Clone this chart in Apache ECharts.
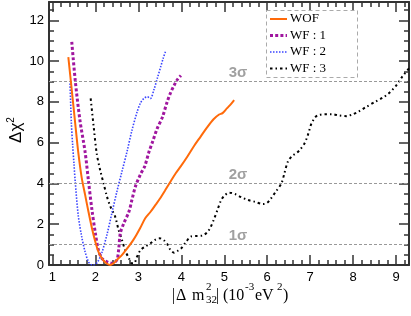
<!DOCTYPE html>
<html>
<head>
<meta charset="utf-8">
<script src="https://cdn.jsdelivr.net/npm/echarts@6/dist/echarts.min.js"></script>
<style>html,body{margin:0;padding:0;background:#fff}#c{width:411px;height:316px}</style>
</head>
<body>
<div id="c"></div>
<script>
var seriesNames = ['WOF', 'WF : 1', 'WF : 2', 'WF : 3'];

var wofX = [1.37,1.45,1.53,1.60,1.68,1.76,1.84,1.92,1.99,2.07,2.13,2.19,2.27,2.35,2.43,2.50,2.60,2.69,2.79,2.88,2.96,3.04,3.16,3.28,3.40,3.50,3.62,3.75,3.87,3.99,4.15,4.30,4.45,4.60,4.75,4.88,4.96,5.06,5.15,5.23];
var wofY = [10.2,8.58,6.95,5.55,4.3,3.45,2.6,1.8,1.2,0.65,0.4,0.22,0.06,0,0.1,0.25,0.45,0.68,0.95,1.22,1.5,1.8,2.29,2.6,2.95,3.25,3.65,4.1,4.5,4.85,5.35,5.85,6.3,6.75,7.15,7.38,7.45,7.68,7.88,8.09];

var wf1X = [1.45,1.53,1.64,1.76,1.84,1.92,2.00,2.07,2.15,2.27,2.39,2.50,2.54,2.58,2.66,2.78,2.85,2.93,3.05,3.15,3.24,3.34,3.44,3.56,3.67,3.75,3.83,3.91,3.99];
var wf1Y = [10.95,9.07,7.1,5.55,4.1,2.7,1.55,0.73,0.33,0.16,0.08,0.25,0.73,1.56,2.04,2.61,3.19,3.84,4.45,4.85,5.5,6.1,6.7,7.25,8.0,8.45,8.8,9.1,9.3];

var wf2X = [1.41,1.44,1.47,1.50,1.53,1.60,1.68,1.76,1.84,1.90,1.96,2.05,2.15,2.27,2.39,2.50,2.62,2.74,2.85,2.97,3.05,3.13,3.21,3.28,3.36,3.44,3.52,3.58,3.63];
var wf2Y = [8.9,7.0,5.9,5.0,4.1,2.45,1.4,0.65,0.15,0.02,0,0.15,0.6,1.5,2.6,3.6,4.6,5.6,6.6,7.5,7.95,8.17,8.25,8.17,8.58,9.15,9.72,10.15,10.46];

var wf3X = [1.89,1.96,2.03,2.11,2.19,2.27,2.35,2.46,2.54,2.62,2.69,2.78,2.85,2.91,2.97,3.05,3.17,3.28,3.40,3.50,3.60,3.68,3.75,3.83,3.92,4.00,4.10,4.22,4.35,4.50,4.60,4.68,4.77,4.85,4.92,5.00,5.12,5.25,5.40,5.55,5.72,5.90,6.00,6.09,6.20,6.33,6.40,6.48,6.58,6.68,6.78,6.87,6.95,7.03,7.12,7.19,7.35,7.50,7.68,7.85,8.00,8.12,8.30,8.51,8.68,8.83,9.00,9.14,9.30];
var wf3Y = [8.17,6.78,5.48,4.66,4.0,3.35,2.86,2.37,1.72,1.22,0.73,0.33,0.08,0.1,0.41,0.73,0.92,1.06,1.25,1.31,1.2,1.0,0.73,0.6,0.7,0.82,1.1,1.39,1.42,1.45,1.6,1.85,2.3,2.75,3.15,3.4,3.55,3.48,3.32,3.19,3.1,2.99,3.05,3.27,3.6,4.0,4.5,5.07,5.35,5.48,5.7,5.97,6.4,6.94,7.25,7.35,7.4,7.4,7.33,7.3,7.4,7.52,7.75,8.0,8.2,8.42,8.8,9.23,9.65];

var sigmaLevels = [1, 4, 9];
var sigmaLabels = ['1σ', '2σ', '3σ'];
var sigmaLabelX = 5.32;

var xMajorTicks = [1,2,3,4,5,6,7,8,9];
var xMinorTicks = [];
for (var i = 1; i <= 9; i++) { for (var j = 1; j < 5; j++) { var v = +(i + j * 0.2).toFixed(1); if (v < 9.3) xMinorTicks.push(v); } }
var yMajorTicks = [0,2,4,6,8,10,12];
var yMinorTicks = [];
for (var k = 0; k < 12.9; k += 0.5) { if (k % 2 !== 0) yMinorTicks.push(k); }

var XMIN = 0.92, XMAX = 9.3, YMIN = 0, YMAX = 12.9;

var colors = ['#ff6a0a', '#a0169f', '#3a44ff', '#000000'];
var widths = [2, 3, 1.6, 2];
var dashes = [null, [3, 2.2], [1.5, 1.5], [2.5, 3, 1.5, 3]];

function zip(xs, ys) { return xs.map(function (x, i) { return [x, ys[i]]; }); }

var frameColor = '#333';
function xAx(pos, ticks, len, showLine, showLabel) {
  return {
    type: 'value', min: XMIN, max: XMAX, position: pos,
    axisLine: { show: showLine, onZero: false, lineStyle: { color: frameColor, width: 2 } },
    axisTick: { show: true, inside: true, length: len, customValues: ticks, lineStyle: { color: frameColor, width: 1.5 } },
    axisLabel: { show: showLabel, customValues: ticks, margin: 6, color: '#000', fontFamily: 'Liberation Sans', fontSize: 13 },
    splitLine: { show: false }
  };
}
function yAx(pos, ticks, len, showLine, showLabel) {
  return {
    type: 'value', min: YMIN, max: YMAX, position: pos,
    axisLine: { show: showLine, onZero: false, lineStyle: { color: frameColor, width: 2 } },
    axisTick: { show: true, inside: true, length: len, customValues: ticks, lineStyle: { color: frameColor, width: 1.5 } },
    axisLabel: { show: showLabel, customValues: ticks, margin: 5, color: '#000', fontFamily: 'Liberation Sans', fontSize: 13 },
    splitLine: { show: false }
  };
}

var seriesData = [zip(wofX, wofY), zip(wf1X, wf1Y), zip(wf2X, wf2Y), zip(wf3X, wf3Y)];
var series = seriesData.map(function (d, i) {
  var s = {
    name: seriesNames[i], type: 'line', data: d, symbol: 'none', smooth: 0.3,
    lineStyle: { color: colors[i], width: widths[i], type: dashes[i] || 'solid' },
    itemStyle: { color: colors[i] }, z: 5 - i
  };
  return s;
});
series[0].markLine = {
  silent: true, symbol: 'none', label: { show: false },
  lineStyle: { color: '#999', type: [3, 2], width: 1 },
  data: sigmaLevels.map(function (v) { return { yAxis: v }; })
};
series.push({
  name: 'sigma', type: 'scatter', symbolSize: 0, silent: true,
  data: sigmaLevels.map(function (v, i) { return [sigmaLabelX, v, sigmaLabels[i]]; }),
  label: {
    show: true, position: 'top', distance: 1,
    formatter: function (p) { return p.data[2]; },
    color: '#888', fontFamily: 'Liberation Sans', fontSize: 15, fontWeight: 'bold'
  }
});

var graphics = [
  { type: 'rect', shape: { x: 266.5, y: 10.5, width: 91, height: 67 },
    style: { fill: '#fff', stroke: '#aaa', lineWidth: 1, lineDash: [4, 3] }, z: 10 }
];
var legendY = [19, 35.5, 52, 68.5];
seriesNames.forEach(function (n, i) {
  graphics.push({ type: 'line', shape: { x1: 270, y1: legendY[i], x2: 287, y2: legendY[i] },
    style: { stroke: colors[i], lineWidth: widths[i], lineDash: dashes[i] }, z: 11 });
  graphics.push({ type: 'text', x: 290, y: legendY[i],
    style: { text: n, fontFamily: 'Liberation Serif', fontSize: 13, fill: '#000', verticalAlign: 'middle' }, z: 11 });
});
graphics.push({ type: 'text', x: 16, y: 130, rotation: Math.PI / 2,
  style: { text: 'Δχ{s|2}', fontFamily: 'Liberation Sans', fontSize: 17, fill: '#000', align: 'center', verticalAlign: 'middle',
    rich: { s: { fontSize: 10, fontFamily: 'Liberation Sans', verticalAlign: 'top', lineHeight: 20 } } } });
var xName = [
  ['|', 172, 296, 16], ['Δ', 176, 296, 16], ['m', 192, 296, 16],
  ['2', 206, 287, 11], ['32', 206, 300, 11],
  ['|', 216, 296, 16], ['(10', 223, 296, 16], ['-3', 245, 287, 11],
  ['eV', 255, 296, 16], ['2', 277, 287, 11], [')', 283, 296, 16]
];
xName.forEach(function (t) {
  graphics.push({ type: 'text', x: t[1], y: t[2],
    style: { text: t[0], fontFamily: 'Liberation Serif', fontSize: t[3], fill: '#000', verticalAlign: 'middle' } });
});

var chart = echarts.init(document.getElementById('c'), null, { renderer: 'canvas' });
chart.setOption({
  animation: false,
  backgroundColor: '#fff',
  grid: { left: 49, right: 2, top: 2, bottom: 51 },
  xAxis: [
    xAx('bottom', xMajorTicks, 10, true, true),
    xAx('bottom', xMinorTicks, 5, false, false),
    xAx('top', xMajorTicks, 10, true, false),
    xAx('top', xMinorTicks, 5, false, false)
  ],
  yAxis: [
    yAx('left', yMajorTicks, 10, true, true),
    yAx('left', yMinorTicks, 5, false, false),
    yAx('right', yMajorTicks, 10, true, false),
    yAx('right', yMinorTicks, 5, false, false)
  ],
  series: series,
  graphic: graphics
});
</script>
</body>
</html>
